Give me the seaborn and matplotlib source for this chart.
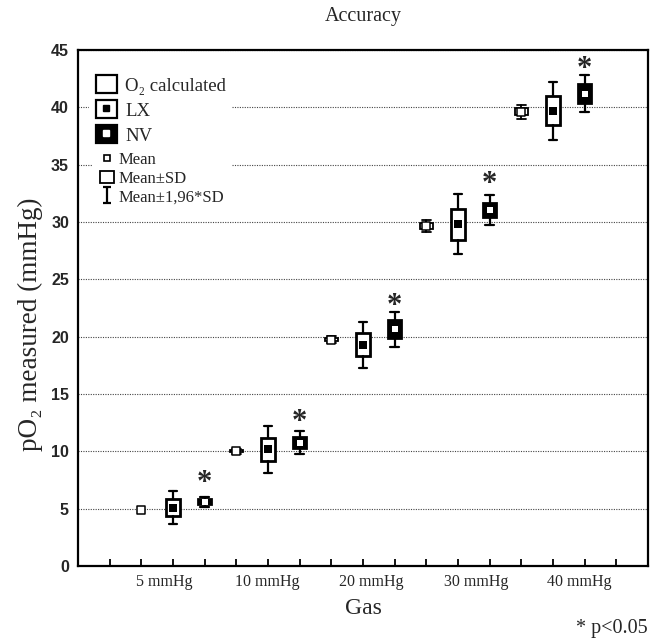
import numpy as np
import pandas as pd
import matplotlib
matplotlib.use("Agg")
import matplotlib.pyplot as plt
import matplotlib.transforms as mtransforms
from matplotlib.patches import Patch
from matplotlib.lines import Line2D
from matplotlib.path import Path
from matplotlib.legend_handler import HandlerTuple
import seaborn as sns

# ---------------- data ----------------
gases = ["5 mmHg", "10 mmHg", "20 mmHg", "30 mmHg", "40 mmHg"]
series = ["O₂ calculated", "LX", "NV"]

o2_mean = [4.9, 10.0, 19.75, 29.67, 39.6]
o2_sd = [0.0, 0.1, 0.15, 0.26, 0.3]

lx_mean = [5.08, 10.17, 19.3, 29.8, 39.72]
lx_sd = [0.74, 1.03, 1.02, 1.33, 1.29]

nv_mean = [5.6, 10.77, 20.66, 31.05, 41.2]
nv_sd = [0.22, 0.51, 0.78, 0.65, 0.81]

star_y = [7.9, 13.2, 23.3, 33.9, 44.0]   # "*" p<0.05 markers above NV
k_whisker = 1.96

# ---------------- style ----------------
sns.set_style("white")
serif = ["Liberation Serif", "DejaVu Serif"]
plt.rcParams["font.family"] = serif

fig = plt.figure(figsize=(6.61, 6.38), dpi=100)
ax = fig.add_axes([78 / 661, 1 - 566 / 638, 570 / 661, 516 / 638])

# positions: O2 at 2,5,8..., LX at 3,6,..., NV at 4,7,...
pos_o2 = [2 + 3 * i for i in range(len(gases))]
pos_lx = [3 + 3 * i for i in range(len(gases))]
pos_nv = [4 + 3 * i for i in range(len(gases))]


def stats(means, sds):
    out = []
    for m, s in zip(means, sds):
        out.append(dict(med=m, q1=m - s, q3=m + s,
                        whislo=m - k_whisker * s, whishi=m + k_whisker * s))
    return out


def draw(means, sds, positions, face, lw_box, lw_wh):
    st = stats(means, sds)
    keep = [i for i, s in enumerate(sds) if s > 0]
    ax.bxp([st[i] for i in keep], positions=[positions[i] for i in keep],
           widths=0.43, capwidths=0.27, patch_artist=True, showfliers=False,
           boxprops=dict(facecolor=face, edgecolor="black", linewidth=lw_box),
           whiskerprops=dict(color="black", linewidth=lw_wh),
           capprops=dict(color="black", linewidth=lw_wh),
           medianprops=dict(linewidth=0), manage_ticks=False, zorder=3)


draw(o2_mean, o2_sd, pos_o2, "white", 1.3, 1.3)
draw(lx_mean, lx_sd, pos_lx, "white", 2.0, 1.6)
draw(nv_mean, nv_sd, pos_nv, "black", 2.0, 1.6)

df_o2 = pd.DataFrame({"pos": pos_o2, "mean": o2_mean})
df_lx = pd.DataFrame({"pos": pos_lx, "mean": lx_mean})
df_nv = pd.DataFrame({"pos": pos_nv, "mean": nv_mean})
sns.scatterplot(data=df_o2, x="pos", y="mean", marker="s", s=28, color="white",
                edgecolor="black", linewidth=1.1, ax=ax, zorder=5)
sns.scatterplot(data=df_lx, x="pos", y="mean", marker="s", s=28, color="black",
                edgecolor="black", linewidth=0, ax=ax, zorder=5)
sns.scatterplot(data=df_nv, x="pos", y="mean", marker="s", s=22, color="white",
                edgecolor="white", linewidth=0, ax=ax, zorder=5)

star_tr = mtransforms.offset_copy(ax.transData, fig=fig, y=-5.5, units="points")
for p, y in zip(pos_nv, star_y):
    ax.text(p, y, "*", ha="center", va="center", fontsize=22,
            fontweight="bold", family=serif, zorder=6, transform=star_tr)

# ---------------- axes ----------------
ax.set_xlim(0, 18)
ax.set_ylim(0, 45)
ax.set_yticks(np.arange(0, 46, 5))
ax.set_yticklabels([str(v) for v in range(0, 46, 5)],
                   fontsize=11.5, fontweight="bold", family="Liberation Sans")
ax.set_xticks([2.72, 5.99, 9.27, 12.56, 15.84])
ax.set_xticklabels(gases, fontsize=11.5)
ax.set_xticks(np.arange(1, 18), minor=True)
ax.tick_params(axis="x", which="major", length=0, pad=6)
ax.tick_params(axis="x", which="minor", direction="in", length=5, width=1.3,
               color="black", bottom=True)
ax.tick_params(axis="y", which="major", direction="in", length=0,
               pad=6.5, left=True)
ax.grid(axis="y", linestyle=(0, (1, 1.2)), linewidth=0.8, color="#444444",
        zorder=0)
ax.set_axisbelow(True)
for sp in ax.spines.values():
    sp.set_visible(True)
    sp.set_linewidth(1.6)
    sp.set_color("black")

ax.set_title("Accuracy", fontsize=14.5, pad=21)
ax.set_xlabel("Gas", fontsize=17)
ax.xaxis.set_label_coords(0.5, -(608 - 566) / 516)
ax.xaxis.label.set_va("center")
ax.set_ylabel("pO₂ measured (mmHg)", fontsize=19.5)
ax.yaxis.set_label_coords(-(78 - 30) / 570, 1 - (324 - 50) / 516)
ax.yaxis.label.set_va("center")

fig.text(648 / 661, 1 - 628 / 638, "* p<0.05", ha="right", va="center",
         fontsize=14.5, family=serif)

# ---------------- legends ----------------
h_o2 = Patch(facecolor="white", edgecolor="black", linewidth=1.6)
h_lx = (Patch(facecolor="white", edgecolor="black", linewidth=1.6),
        Line2D([], [], marker="s", ls="", color="black", markersize=5))
h_nv = (Patch(facecolor="black", edgecolor="black", linewidth=1.6),
        Line2D([], [], marker="s", ls="", color="white", markersize=5))
leg1 = ax.legend([h_o2, h_lx, h_nv], ["O₂ calculated", "LX", "NV"],
                 handler_map={tuple: HandlerTuple(ndivide=1)},
                 loc="upper left", bbox_to_anchor=(0.02, 0.964),
                 handlelength=1.1, handleheight=1.1,
                 handletextpad=0.45, labelspacing=0.3, borderpad=0.35,
                 borderaxespad=0, frameon=True, fancybox=False,
                 facecolor="white", edgecolor="none", framealpha=1,
                 prop=dict(family=serif, size=13.5))
ax.add_artist(leg1)

ibeam = Path([(-0.5, -1), (0.5, -1), (0, -1), (0, 1), (-0.5, 1), (0.5, 1)],
             [Path.MOVETO, Path.LINETO, Path.MOVETO, Path.LINETO,
              Path.MOVETO, Path.LINETO])
h_mean = Line2D([], [], marker="s", ls="", markerfacecolor="white",
                markeredgecolor="black", markeredgewidth=1.2, markersize=4.5)
h_sd = Patch(facecolor="white", edgecolor="black", linewidth=1.3)
h_ci = Line2D([], [], marker=ibeam, ls="", color="black", markersize=12,
              markeredgewidth=1.6)
leg2 = ax.legend([h_mean, h_sd, h_ci], ["Mean", "Mean±SD", "Mean±1,96*SD"],
                 loc="upper left", bbox_to_anchor=(0.026, 0.816),
                 handlelength=0.8, handleheight=0.75,
                 handletextpad=0.3, labelspacing=0.15, borderpad=0.45,
                 borderaxespad=0, frameon=True, fancybox=False,
                 facecolor="white", edgecolor="none", framealpha=1,
                 prop=dict(family=serif, size=12))

fig.savefig("out.png", dpi=100)
